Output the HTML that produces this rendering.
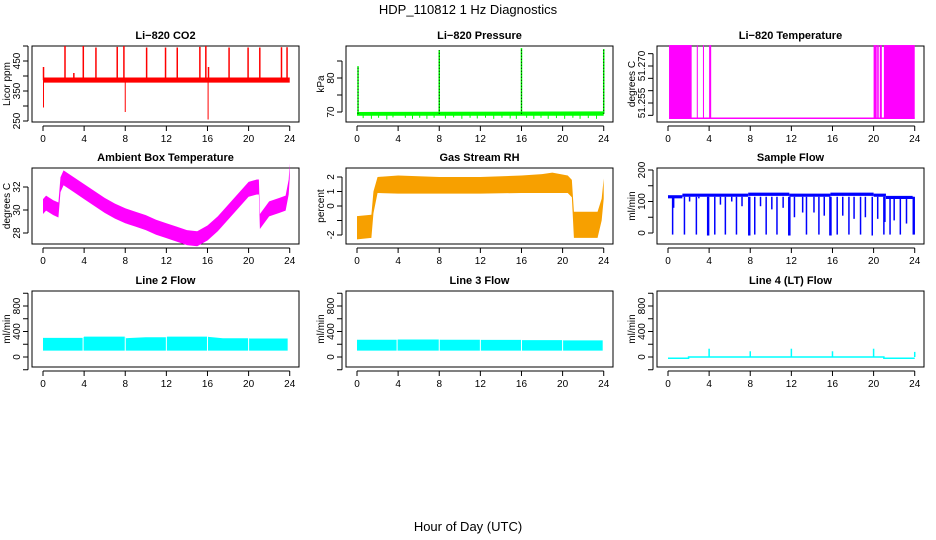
<!DOCTYPE html>
<html><head><meta charset="utf-8"><style>
body{margin:0;background:#fff}
svg{display:block;font-family:"Liberation Sans",sans-serif}
</style></head><body>
<svg id="c" width="936" height="540" viewBox="0 0 936 540">
<text x="468" y="14" font-size="13" text-anchor="middle">HDP_110812  1 Hz Diagnostics</text>
<text x="468" y="531" font-size="13" text-anchor="middle">Hour of Day (UTC)</text>
</svg>
<script>
// ---- data ----
const xTicks=[0,4,8,12,16,20,24];
// CO2
const co2Base=[[0,378,395],[24,378,395]];
const co2SpikeH=[0.05,2.14,3.92,5.15,7.22,7.87,10.08,11.92,13.06,15.26,15.84,18.1,19.95,21.09,23.2,23.74,16.1,3.0];
const co2SpikeV=[430,500,500,495,497,500,495,495,495,497,500,495,495,495,496,496,430,410];
const co2DownH=[0.05,8.0,16.06];
const co2DownV=[295,280,255];
// Pressure
const presBase=[[0,68.9,70],[24,68.9,70.2]];
const presDipH=[0.6,1.4,2.1,2.9,3.5,4.7,5.4,6.1,6.8,7.5,8.6,9.4,10.2,11.0,11.7,12.5,13.3,14.1,14.9,15.5,16.5,17.2,17.9,18.6,19.4,20.2,21.0,21.7,22.5,23.3];
const presDipV=[68.2,68.0,68.3,67.8,68.4,68.3,68.0,68.3,68.0,68.3,68.1,68.4,68.0,68.3,68.1,68.3,68.0,68.3,68.1,68.0,68.3,68.0,68.3,68.0,68.2,68.0,68.3,68.0,68.2,68.0];
const presSpikeH=[0.1,8.0,16.0,24.0];
const presSpikeV=[83.5,88.2,88.8,88.5];
// Li-820 temperature
const tempLow=51.2488, tempHigh=51.2785;
const tempHiStart=[0.1,2.8,3.4,4.0,20.0,20.35,20.6,21.0];
const tempHiEnd=[2.3,2.9,3.5,4.2,20.3,20.5,20.8,24.0];
// Ambient box temperature
const ambH=[0,0.3,1.0,1.5,1.7,2.0,3.0,4.0,5.0,6.0,7.0,8.0,9.0,10.0,11.0,12.0,13.0,14.0,15.0,16.0,17.0,18.0,19.0,20.0,20.8,21.0,21.1,22.0,23.0,23.6,23.9,24.0];
const ambV=[30.3,30.6,30.2,30.0,32.2,32.8,32.2,31.6,31.0,30.4,29.9,29.5,29.2,28.9,28.5,28.2,27.9,27.6,27.5,28.0,28.8,29.8,30.8,31.8,32.0,32.0,29.0,30.1,30.4,30.6,32.0,33.4];
// Gas stream RH
const rhH=[0,1.4,1.6,2.0,4,8,12,16,18,19,20.5,20.9,21.1,23.4,23.8,24];
const rhLo=[-2.3,-2.2,-0.5,0.9,0.85,0.85,0.85,0.9,0.9,0.9,0.9,0.6,-2.2,-2.2,-1.0,0.5];
const rhHi=[-0.7,-0.6,1.0,2.0,2.1,2.0,2.0,2.1,2.2,2.3,2.1,1.8,-0.4,-0.4,0.5,1.9];
// Sample flow
const sfSegH=[0,1.4,7.8,11.8,15.8,20.0,21.2,23.8];
const sfSegLo=[110,115,118,115,118,115,108];
const sfSegHi=[120,125,128,125,128,125,118];
const sfDipH=[0.45,1.6,2.76,3.86,3.95,4.55,5.58,6.66,7.86,7.95,8.44,9.55,10.6,11.75,11.85,13.47,14.68,15.75,15.85,16.46,17.6,18.73,19.87,21.0,21.6,22.6,23.86,23.95,0.55,2.1,3.0,5.1,6.2,7.2,9.0,10.1,11.2,12.3,13.1,14.2,15.2,17.0,18.1,19.2,20.4,21.1,22.0,23.2];
const sfDipV=[-5,-5,-5,-8,-8,-5,-5,-5,-8,-8,-5,-5,-5,-8,-8,-5,-5,-8,-8,-5,-5,-5,-8,-5,-5,-5,-5,-5,80,100,110,90,100,85,85,75,80,50,65,65,55,55,45,50,45,35,40,30];
// Line flows
const l2H=[0,3.9,4.0,8.0,8.1,10,12.0,12.1,16.0,16.1,17.5,20.0,20.1,23.8];
const l2Hi=[300,300,320,320,295,310,310,320,320,315,295,295,290,290];
const l2Lo=[100,100,100,100,100,100,100,100,100,100,100,100,100,100];
const l2Gap=[3.9,8.0,12.0,16.0,20.0];
const l3H=[0,3.9,4.0,8.0,8.1,12.0,12.1,16.0,16.1,20.0,20.1,23.9];
const l3Hi=[270,270,275,275,270,270,268,268,265,265,260,260];
const l3Lo=[100,100,100,100,100,100,100,100,100,100,100,100];
const l3Gap=[3.9,8.0,12.0,16.0,20.0];
const l4H=[0,2.0,2.0,21.0,21.0,24];
const l4V=[-20,-20,0,0,-20,-20];
const l4SpikeH=[4,8,12,16,20,24];
const l4SpikeV=[130,90,130,90,130,80];

// ---- layout ----
const NS='http://www.w3.org/2000/svg';
const svg=document.getElementById('c');
const colX=[32,346,657], rowY=[46,168,291], BW=267, BH=76;
function el(t,a,p){const e=document.createElementNS(NS,t);for(const k in a)e.setAttribute(k,a[k]);(p||svg).appendChild(e);return e;}
function mk(col,row,title,ylab,ref,ticks,labels,name){
  const g=el('g',{});
  
  
  const L=colX[col],T=rowY[row];
  const P={g,L,T,
    x:h=>L+11+h*10.28,
    y:v=>ref[1]+(v-ref[0])*(ref[3]-ref[1])/(ref[2]-ref[0])};
  const b=el('rect',{x:L,y:T,width:BW,height:BH,fill:'none',stroke:'#000','stroke-width':1},g);
  
  
  const tt=el('text',{x:L+BW/2,y:T-7,'font-size':11,'font-weight':'bold','text-anchor':'middle'},g);tt.textContent=title;
  
  
  const B=T+BH;
  el('line',{x1:P.x(0),x2:P.x(24),y1:B+4,y2:B+4,stroke:'#000'},g);
  xTicks.forEach(h=>{
    el('line',{x1:P.x(h),x2:P.x(h),y1:B+4,y2:B+9,stroke:'#000'},g);
    const t=el('text',{x:P.x(h),y:B+20,'font-size':10,'text-anchor':'middle'},g);t.textContent=h;
    
    
  });
  el('line',{x1:L-4,x2:L-4,y1:P.y(ticks[0]),y2:P.y(ticks[ticks.length-1]),stroke:'#000'},g);
  ticks.forEach(v=>el('line',{x1:L-9,x2:L-4,y1:P.y(v),y2:P.y(v),stroke:'#000'},g));
  labels.forEach(v=>{const yy=P.y(v);const t=el('text',{x:L-12,y:yy,'font-size':10,'text-anchor':'middle',transform:`rotate(-90 ${L-12} ${yy})`},g);t.textContent=v;
    
    });
  const cy=T+BH/2;const yl=el('text',{x:L-22,y:cy,'font-size':10,'text-anchor':'middle',transform:`rotate(-90 ${L-22} ${cy})`},g);yl.textContent=ylab;
  
  
  return P;
}
function band(P,H,lo,hi,fill,name){
  let d='M'+H.map((h,i)=>P.x(h)+','+P.y(hi[i])).join('L')+'L'+H.map((h,i)=>P.x(h)+','+P.y(lo[i])).reverse().join('L')+'Z';
  const p=el('path',{d,fill,stroke:'none'},P.g);
  
  
}
function vline(P,h,v0,v1,col,w,name,dash){
  const a={x1:P.x(h),x2:P.x(h),y1:P.y(v0),y2:P.y(v1),stroke:col,'stroke-width':w||1};
  if(dash)a['stroke-dasharray']=dash;
  const l=el('line',a,P.g);
  
  
}

// CO2
let P=mk(0,0,'Li\u2212820 CO2','Licor ppm',[250,121,450,61],[250,300,350,400,450,500],[250,350,450],'co2');
band(P,co2Base.map(r=>r[0]),co2Base.map(r=>r[1]),co2Base.map(r=>r[2]),'#ff0000','co2-band');
co2SpikeH.forEach((h,i)=>vline(P,h,386,co2SpikeV[i],'#ff0000',1.5,'co2-spike'));
co2DownH.forEach((h,i)=>vline(P,h,386,co2DownV[i],'#ff0000',1,'co2-dip'));
// Pressure
P=mk(1,0,'Li\u2212820 Pressure','kPa',[70,112,80,78],[70,75,80,85],[70,80],'pressure');
band(P,presBase.map(r=>r[0]),presBase.map(r=>r[1]),presBase.map(r=>r[2]),'#00ff00','pressure-band');
presDipH.forEach((h,i)=>vline(P,h,69.5,presDipV[i],'#00ff00',1,'pressure-dip'));
presSpikeH.forEach((h,i)=>{vline(P,h,69.5,presSpikeV[i],'#00ff00',1.5,'pressure-spike');vline(P,h,69.5,presSpikeV[i],'#000',1,'pressure-spike-dots','1,2');});
// Temperature
P=mk(2,0,'Li\u2212820 Temperature','degrees C',[51.255,103,51.270,66],[51.250,51.255,51.260,51.265,51.270,51.275],['51.255','51.270'],'li820-temp');
el('line',{x1:P.x(0.1),x2:P.x(24),y1:P.y(tempLow),y2:P.y(tempLow),stroke:'#ff00ff','stroke-width':1.5},P.g);
tempHiStart.forEach((s,i)=>{const r=el('rect',{x:P.x(s),y:P.y(tempHigh),width:Math.max(1,P.x(tempHiEnd[i])-P.x(s)),height:P.y(tempLow)-P.y(tempHigh),fill:'#ff00ff'},P.g);
  
  });
// Ambient
P=mk(0,1,'Ambient Box Temperature','degrees C',[28,233,32,187],[28,30,32],[28,30,32],'ambient');
band(P,ambH,ambV.map(v=>v-0.65),ambV.map(v=>v+0.65),'#ff00ff','ambient-band');
// RH
P=mk(1,1,'Gas Stream RH','percent',[-2,235,2,177],[-2,-1,0,1,2],[-2,0,1,2],'rh');
band(P,rhH,rhLo,rhHi,'#f7a000','rh-band');
// Sample flow
P=mk(2,1,'Sample Flow','ml/min',[0,233,200,170],[0,50,100,150,200],[0,100,200],'sample-flow');
for(let i=0;i<sfSegLo.length;i++)band(P,[sfSegH[i],sfSegH[i+1]],[sfSegLo[i],sfSegLo[i]],[sfSegHi[i],sfSegHi[i]],'#0000ff','sample-flow-band');
sfDipH.forEach((h,i)=>vline(P,h,115,sfDipV[i],'#0000ff',1.5,'sample-flow-dip'));
// Line 2
P=mk(0,2,'Line 2 Flow','ml/min',[0,357,800,306],[-200,0,200,400,600,800,1000],[0,400,800],'line2');
band(P,l2H,l2Lo,l2Hi,'#00ffff','line2-band');
l2Gap.forEach(h=>vline(P,h,95,330,'#fff',1,'line2-gap'));
// Line 3
P=mk(1,2,'Line 3 Flow','ml/min',[0,357,800,306],[-200,0,200,400,600,800,1000],[0,400,800],'line3');
band(P,l3H,l3Lo,l3Hi,'#00ffff','line3-band');
l3Gap.forEach(h=>vline(P,h,95,290,'#fff',1,'line3-gap'));
// Line 4
P=mk(2,2,'Line 4 (LT) Flow','ml/min',[0,357,800,306],[-200,0,200,400,600,800,1000],[0,400,800],'line4');
const pl=el('polyline',{points:l4H.map((h,i)=>P.x(h)+','+P.y(l4V[i])).join(' '),fill:'none',stroke:'#00ffff','stroke-width':1.5},P.g);


l4SpikeH.forEach((h,i)=>vline(P,h,0,l4SpikeV[i],'#00ffff',1.5,'line4-spike'));
</script>
</body></html>
